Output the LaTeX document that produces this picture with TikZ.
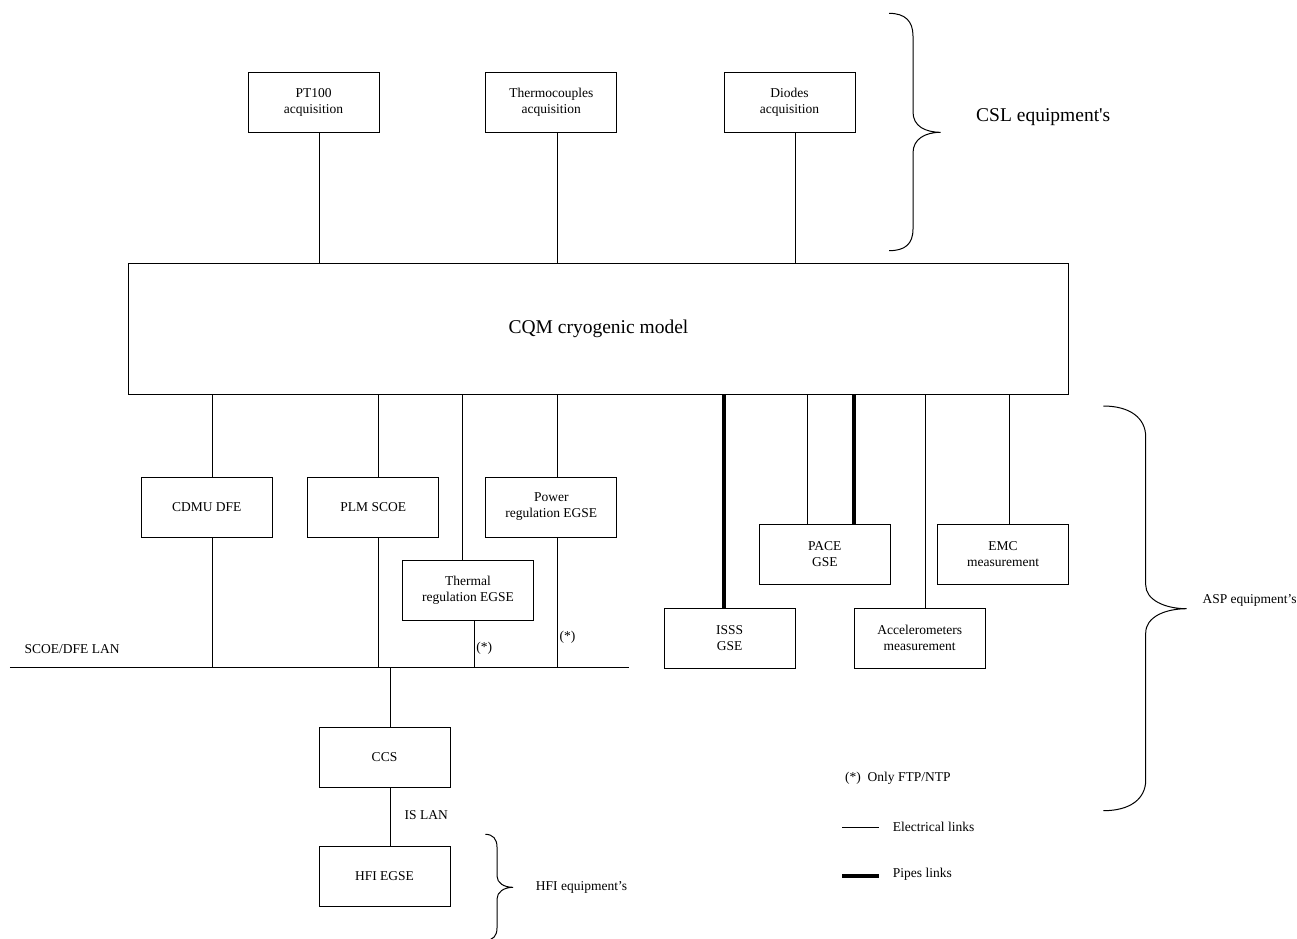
\documentclass[tikz,border=0pt]{standalone}
\usepackage{fontspec}
\setmainfont{Liberation Serif}
\newfontfamily\plainrm{Liberation Serif}
\begin{document}
\begin{tikzpicture}[x=1pt,y=-1pt,
  box/.style={draw, line width=1pt, minimum width=131pt, minimum height=60pt,
    inner sep=0pt, align=center, font=\fontsize{13.5}{16}\selectfont},
  % two-line boxes: a taller first line sets the text a little lower
  box2/.style={box, execute at begin node={\rule{0pt}{15pt}}},
  elec/.style={line width=0.9pt},
  pipe/.style={line width=4pt},
  lbl/.style={inner sep=0pt, font=\fontsize{13.5}{16}\selectfont},
  brace/.style={line width=1pt}]
\useasboundingbox (0,0) rectangle (1297,938);

% central model
\node[draw, line width=1pt, minimum width=940.4pt, minimum height=131pt, inner sep=0pt,
  font=\fontsize{19.5}{23}\selectfont] (cqm) at (598.5,328.5) {CQM cryogenic model};

% CSL acquisition chains
\node[box2] (pt100)  at (313.5,102.7) {PT100\\acquisition};
\node[box2] (thermo) at (551.3,102.7) {Thermocouples\\acquisition};
\node[box2] (diodes) at (789.5,102.7) {Diodes\\acquisition};
\draw[elec] (319.2,0 |- pt100.south)  -- (319.2,0 |- cqm.north);
\draw[elec] (557.3,0 |- thermo.south) -- (557.3,0 |- cqm.north);
\draw[elec] (795.0,0 |- diodes.south) -- (795.0,0 |- cqm.north);

% SCOE / DFE side
\node[box]  (cdmu)    at (206.7,507)   {CDMU DFE};
\node[box]  (plm)     at (373.2,507)   {PLM SCOE};
\node[box2] (power)   at (551.3,507)   {Power\\regulation EGSE};
\node[box2] (thermal) at (468.0,590.7) {Thermal\\regulation EGSE};
\draw[elec] (212.4,0 |- cqm.south) -- (212.4,0 |- cdmu.north);
\draw[elec] (378.8,0 |- cqm.south) -- (378.8,0 |- plm.north);
\draw[elec] (462.0,0 |- cqm.south) -- (462.0,0 |- thermal.north);
\draw[elec] (557.3,0 |- cqm.south) -- (557.3,0 |- power.north);

% SCOE/DFE LAN
\coordinate (lanL) at (9.8,667.3);
\coordinate (lanR) at (629,667.3);
\draw[elec] (lanL) -- (lanR);
\node[lbl, anchor=west] (lanlbl) at (24.5,649) {SCOE/DFE LAN};
\draw[elec] (212.4,0 |- cdmu.south)    -- (212.4,0 |- lanL);
\draw[elec] (378.8,0 |- plm.south)     -- (378.8,0 |- lanL);
\draw[elec] (474.0,0 |- thermal.south) -- (474.0,0 |- lanL);
\draw[elec] (557.3,0 |- power.south)   -- (557.3,0 |- lanL);
\node[lbl] (ftp1) at (484.2,648.7) {(*)};
\node[lbl] (ftp2) at (567.5,637.0) {(*)};

% CCS and HFI
\node[box] (ccs) at (384.5,757) {CCS};
\node[box] (hfi) at (384.5,876) {HFI EGSE};
\draw[elec] (390.7,0 |- lanL) -- (390.7,0 |- ccs.north);
\draw[elec] (390.7,0 |- ccs.south) -- (390.7,0 |- hfi.north);
\node[lbl, anchor=west] (islan) at (404.5,815) {IS LAN};

% ASP equipment
\node[box2] (isss)  at (729.7,638.3) {ISSS\\GSE};
\node[box2] (pace)  at (824.8,554.5) {PACE\\GSE};
\node[box2] (accel) at (919.7,638.3) {Accelerometers\\measurement};
\node[box2] (emc)   at (1003.0,554.5) {EMC\\measurement};
\draw[pipe] (723.7,0 |- cqm.south) -- (723.7,0 |- isss.north);
\draw[elec] (807.0,0 |- cqm.south) -- (807.0,0 |- pace.north);
\draw[pipe] (854.3,0 |- cqm.south) -- (854.3,0 |- pace.north);
\draw[elec] (925.7,0 |- cqm.south) -- (925.7,0 |- accel.north);
\draw[elec] (1009.0,0 |- cqm.south) -- (1009.0,0 |- emc.north);

% braces and group labels
\draw[brace] (889,13.3) .. controls (905,13.3) and (913,21) .. (913,36)
  -- (913,112) .. controls (913,126) and (925,132.3) .. (940.7,132.3)
  .. controls (925,132.3) and (913,139) .. (913,153)
  -- (913,229) .. controls (913,244) and (905,250.7) .. (889,250.7);
\node[inner sep=0pt, anchor=west, font=\fontsize{19.5}{23}\plainrm] (csl) at (976,117) {CSL equipment's};

\draw[brace] (1103.3,406) .. controls (1130,406) and (1145.7,418) .. (1145.7,437)
  -- (1145.7,585) .. controls (1145.7,600) and (1165,608.7) .. (1186.7,608.7)
  .. controls (1165,608.7) and (1145.7,617) .. (1145.7,633)
  -- (1145.7,780) .. controls (1145.7,799) and (1130,810.7) .. (1103.3,810.7);
\node[lbl, anchor=west] (asp) at (1202.3,600.7) {ASP equipment’s};

\draw[brace] (485.3,834.3) .. controls (493,834.3) and (497,839) .. (497,847)
  -- (497,876) .. controls (497,883) and (504,887.3) .. (513,887.3)
  .. controls (504,887.3) and (497,892) .. (497,899)
  -- (497,928) .. controls (497,936) and (493,940.3) .. (485.3,940.3);
\node[lbl, anchor=west] (hfilbl) at (535.7,887) {HFI equipment’s};

% legend
\node[lbl, anchor=west] (note) at (845,778.3) {(*)~~Only FTP/NTP};
\coordinate (e1) at (842.3,827.7);
\coordinate (e2) at (878.7,827.7);
\draw[elec] (e1) -- (e2);
\node[lbl, anchor=west] (elbl) at (892.7,826.7) {Electrical links};
\coordinate (p1) at (842.3,875.7);
\coordinate (p2) at (879,875.7);
\draw[pipe] (p1) -- (p2);
\node[lbl, anchor=west] (plbl) at (892.7,874.7) {Pipes links};
\end{tikzpicture}
\end{document}
